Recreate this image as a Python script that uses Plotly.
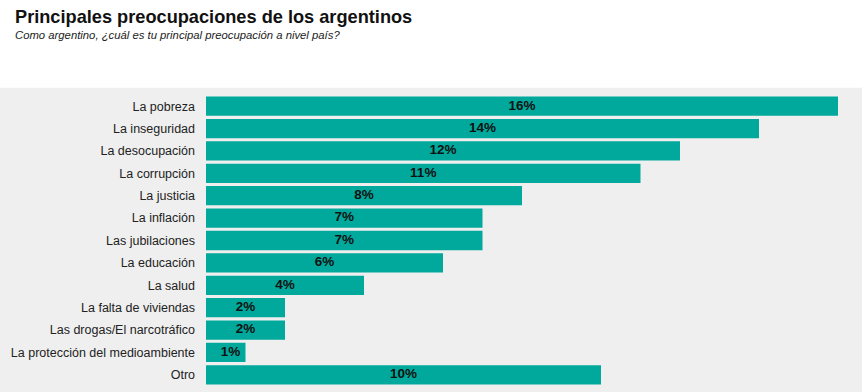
import plotly.graph_objects as go

categories = ["La pobreza", "La inseguridad", "La desocupación", "La corrupción", "La justicia",
              "La inflación", "Las jubilaciones", "La educación", "La salud", "La falta de viviendas",
              "Las drogas/El narcotráfico", "La protección del medioambiente", "Otro"]
values = [16, 14, 12, 11, 8, 7, 7, 6, 4, 2, 2, 1, 10]
labels = [f"{v}%" for v in values]

fig = go.Figure()
fig.add_trace(go.Bar(
    x=values, y=categories, orientation="h",
    marker=dict(color="#00A99B", line=dict(width=0)),
    hoverinfo="skip",
))
fig.add_trace(go.Scatter(
    x=[max(v / 2, 0.62) for v in values], y=categories, mode="text", text=labels,
    textposition="middle center",
    textfont=dict(family="Liberation Sans, Arial, sans-serif", size=13.5, color="#111111", weight="bold"),
    hoverinfo="skip", cliponaxis=False,
))

fig.update_layout(
    width=862, height=392,
    margin=dict(l=206, r=0, t=95, b=6),
    paper_bgcolor="white", plot_bgcolor="rgba(0,0,0,0)",
    bargap=0.14,
    showlegend=False,
    font=dict(family="Liberation Sans, Arial, sans-serif", color="#222222"),
    shapes=[dict(type="rect", xref="paper", yref="paper", x0=-0.4, x1=1.1,
                 y0=-0.03, y1=1.025, fillcolor="#EFEFEF", line=dict(width=0), layer="below")],
    annotations=[
        dict(text="<b>Principales preocupaciones de los argentinos</b>", xref="paper", yref="paper",
             x=-206/656 + 13/656, y=1 + 95/291 - 5/291, xanchor="left", yanchor="top", showarrow=False,
             font=dict(size=18.2, color="#111111")),
        dict(text="<i>Como argentino, ¿cuál es tu principal preocupación a nivel país?</i>", xref="paper", yref="paper",
             x=-206/656 + 13/656, y=1 + 95/291 - 27/291, xanchor="left", yanchor="top", showarrow=False,
             font=dict(size=11.3, color="#222222")),
    ],
)
fig.update_xaxes(range=[0, 656/39.5], visible=False, fixedrange=True)
fig.update_yaxes(range=[len(categories) - 0.5, -0.5], showgrid=False, zeroline=False, showline=False,
                 ticks="", ticklabelstandoff=10, tickfont=dict(size=12.5, color="#222222"), fixedrange=True)

fig.write_html("out.html", config={"displayModeBar": False},
               post_script="document.body.style.margin='0';document.body.style.padding='0';")
